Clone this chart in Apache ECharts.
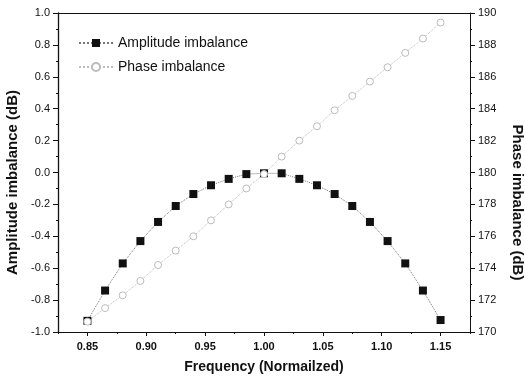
<!DOCTYPE html>
<html><head><meta charset="utf-8">
<script src="https://cdn.jsdelivr.net/npm/echarts@6/dist/echarts.min.js"></script>
<style>html,body{margin:0;padding:0;background:#fff}#c{width:525px;height:382px}</style>
</head><body><div id="c"></div>
<script>
var freq = [0.85,0.865,0.88,0.895,0.91,0.925,0.94,0.955,0.97,0.985,1.0,1.015,1.03,1.045,1.06,1.075,1.09,1.105,1.12,1.135,1.15];
var amplitude = [-0.93,-0.74,-0.57,-0.43,-0.31,-0.21,-0.135,-0.08,-0.04,-0.01,-0.005,-0.005,-0.04,-0.08,-0.135,-0.21,-0.31,-0.43,-0.57,-0.74,-0.925];
var phase = [170.65,171.5,172.3,173.2,174.2,175.1,176.0,177.0,178.0,179.0,179.9,181.0,182.0,182.9,183.9,184.8,185.7,186.6,187.5,188.4,189.4];
var xTicks = [0.85,0.90,0.95,1.00,1.05,1.10,1.15];
var xMinorTicks = [0.825,0.875,0.925,0.975,1.025,1.075,1.125,1.175];

var font = 'Liberation Sans, Arial, sans-serif';
var chart = echarts.init(document.getElementById('c'), null, {renderer:'canvas'});
function pairs(y){ return freq.map(function(f,i){return [f,y[i]];}); }
chart.setOption({
  animation:false,
  grid:{left:58,right:55,top:13,bottom:50,containLabel:false,outerBoundsMode:'none'},
  legend:{
    orient:'vertical', left:73, top:31, itemGap:10, itemWidth:34, itemHeight:10,
    textStyle:{fontFamily:font,fontSize:14,color:'#111'},
    data:['Amplitude imbalance','Phase imbalance']
  },
  xAxis:[{
    type:'value', min:0.825, max:1.175, position:'bottom',
    name:'Frequency (Normailzed)', nameLocation:'middle', nameGap:28,
    nameTextStyle:{fontFamily:font,fontSize:14,fontWeight:'bold',color:'#111'},
    axisLine:{onZero:false,lineStyle:{color:'#111',width:1}},
    axisTick:{show:true,inside:false,length:4,customValues:xTicks,lineStyle:{color:'#111'}},
    axisLabel:{customValues:xTicks,fontFamily:font,fontSize:11,fontWeight:'bold',color:'#111',margin:9,
      formatter:function(v){return v.toFixed(2);}},
    splitLine:{show:false}
  },{
    type:'value', min:0.825, max:1.175, position:'bottom',
    axisLine:{show:false,onZero:false},
    axisTick:{show:true,inside:false,length:2,customValues:xMinorTicks,lineStyle:{color:'#111'}},
    axisLabel:{show:false}, splitLine:{show:false}
  },{
    type:'value', min:0.825, max:1.175, position:'top',
    axisLine:{onZero:false,lineStyle:{color:'#111',width:1}},
    axisTick:{show:false}, axisLabel:{show:false}, splitLine:{show:false}
  }],
  yAxis:[{
    type:'value', min:-1, max:1, interval:0.2, position:'left',
    name:'Amplitude imbalance (dB)', nameLocation:'middle', nameGap:36,
    nameTextStyle:{fontFamily:font,fontSize:15,fontWeight:'bold',color:'#111',padding:[0,20,0,0]},
    axisLine:{onZero:false,lineStyle:{color:'#111',width:1.3}},
    axisTick:{show:true,inside:false,length:5,lineStyle:{color:'#111'}},
    minorTick:{show:true,splitNumber:2,length:2,lineStyle:{color:'#111'}},
    axisLabel:{fontFamily:font,fontSize:11,color:'#111',margin:8,
      formatter:function(v){return v.toFixed(1);}},
    splitLine:{show:false}
  },{
    type:'value', min:170, max:190, interval:2, position:'right',
    name:'Phase imbalance (dB)', nameLocation:'middle', nameGap:40, nameRotate:-90,
    nameTextStyle:{fontFamily:font,fontSize:15,fontWeight:'bold',color:'#111',padding:[0,0,0,60]},
    axisLine:{onZero:false,lineStyle:{color:'#111',width:1}},
    axisTick:{show:true,inside:false,length:5,lineStyle:{color:'#111'}},
    minorTick:{show:true,splitNumber:2,length:2,lineStyle:{color:'#111'}},
    axisLabel:{fontFamily:font,fontSize:11,color:'#111',margin:8},
    splitLine:{show:false}
  }],
  series:[{
    name:'Amplitude imbalance', type:'line', xAxisIndex:0, yAxisIndex:0,
    data:pairs(amplitude), symbol:'rect', symbolSize:8,
    itemStyle:{color:'#111'},
    lineStyle:{color:'#777',width:1,type:'dotted'}
  },{
    name:'Phase imbalance', type:'line', xAxisIndex:0, yAxisIndex:1,
    data:pairs(phase), symbol:'circle', symbolSize:7,
    itemStyle:{color:'#fff',borderColor:'#bbb',borderWidth:1},
    lineStyle:{color:'#bbb',width:1,type:'dotted'}
  }]
});
</script></body></html>
